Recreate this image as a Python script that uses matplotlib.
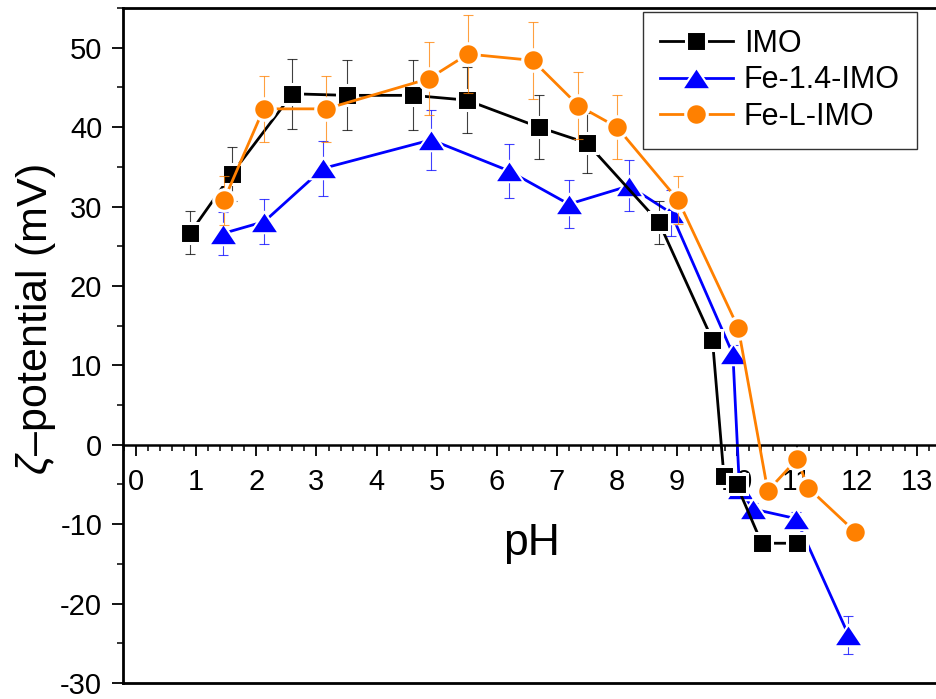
import numpy as np
import matplotlib.pyplot as plt
from matplotlib.path import Path
from matplotlib.markers import MarkerStyle
from matplotlib.ticker import MultipleLocator

plt.rcParams['font.family'] = ['Liberation Sans', 'DejaVu Sans']
plt.rcParams['mathtext.fontset'] = 'custom'
plt.rcParams['mathtext.rm'] = 'Liberation Sans'
plt.rcParams['mathtext.it'] = 'Liberation Sans:italic'
plt.rcParams['axes.unicode_minus'] = False

# zeta potential vs pH, three samples
ph_imo = [0.90, 1.59, 2.60, 3.50, 4.60, 5.50, 6.70, 7.50, 8.70, 9.59, 9.78, 9.99, 10.41, 10.99]
zeta_imo = [26.7, 34.1, 44.2, 44.0, 44.0, 43.4, 40.0, 38.0, 28.0, 13.2, -3.9, -5.0, -12.4, -12.4]
err_imo = [2.7, 3.4, 4.4, 4.4, 4.4, 4.2, 4.0, 3.8, 2.7, 1.0, 0.8, 0.8, 1.0, 1.0]

ph_fe14 = [1.44, 2.13, 3.11, 4.91, 6.20, 7.20, 8.20, 8.90, 9.93, 10.04, 10.27, 10.98, 11.85]
zeta_fe14 = [26.6, 28.1, 34.8, 38.4, 34.5, 30.3, 32.6, 29.2, 11.4, -5.6, -8.1, -9.3, -23.9]
err_fe14 = [2.7, 2.8, 3.5, 3.8, 3.4, 3.0, 3.2, 2.9, 1.2, 0.8, 0.8, 0.8, 2.4]

ph_fel = [1.46, 2.12, 3.16, 4.87, 5.52, 6.60, 7.36, 8.00, 9.02, 10.02, 10.51, 11.00, 11.18, 11.97]
zeta_fel = [30.8, 42.3, 42.3, 46.1, 49.2, 48.4, 42.7, 40.0, 30.8, 14.7, -5.8, -1.8, -5.4, -11.0]
err_fel = [3.1, 4.2, 4.2, 4.6, 4.9, 4.8, 4.2, 4.0, 3.0, 0.8, 0.5, 0.5, 0.5, 0.5]

# flattened up-triangle
tri = MarkerStyle(Path([(-1, -0.75), (1, -0.75), (0, 0.75), (-1, -0.75)],
                       [Path.MOVETO, Path.LINETO, Path.LINETO, Path.CLOSEPOLY]),
                  joinstyle='miter')

# x, y, err, label, colour, marker, size, white gap width, zorder
series = [
    (ph_fe14, zeta_fe14, err_fe14, 'Fe-1.4-IMO', '#0000FF', tri, 20.6, 1.5, 2),
    (ph_imo, zeta_imo, err_imo, 'IMO', 'black', 's', 14.3, 2.2, 3),
    (ph_fel, zeta_fel, err_fel, 'Fe-L-IMO', '#FF8000', 'o', 15.5, 2.2, 4),
]

fig = plt.figure(figsize=(9.36, 6.99), dpi=100)
ax = fig.add_axes([123/936, 16/699, 813/936, 675/699])

for x, y, e, lab, c, m, ms, gap, z in series:
    ax.errorbar(x, y, yerr=e, fmt='none', ecolor=c, elinewidth=0.8,
                capsize=3.6, capthick=0.8, alpha=0.75, zorder=z - 0.5)
    ax.plot(x, y, color=c, lw=2, marker=m, ms=ms, mfc=c, mec='white',
            mew=gap, zorder=z, label=lab)

ax.set_xlim(-0.22, 13.31)
ax.set_ylim(-30, 55)

ax.xaxis.set_major_locator(MultipleLocator(1))
ax.xaxis.set_minor_locator(MultipleLocator(0.2))
ax.yaxis.set_major_locator(MultipleLocator(10))
ax.yaxis.set_minor_locator(MultipleLocator(5))

ax.spines['right'].set_visible(False)
ax.spines['top'].set_linewidth(2)
ax.spines['left'].set_linewidth(2)
ax.spines['bottom'].set_position(('data', 0))
ax.spines['bottom'].set_linewidth(1.8)
# frame line along the bottom edge
ax.plot([0, 1], [0, 0], transform=ax.transAxes, color='black', lw=2,
        clip_on=False, zorder=6)

ax.tick_params(axis='x', which='major', direction='out', length=8, width=1.3,
               labelsize=21, pad=9, top=False)
ax.tick_params(axis='x', which='minor', direction='out', length=4.3, width=1.1, top=False)
ax.tick_params(axis='y', which='major', direction='out', length=8, width=1.3,
               labelsize=21, pad=7, right=False)
ax.tick_params(axis='y', which='minor', direction='out', length=4.3, width=1.1, right=False)

ax.set_xlabel('pH', fontsize=32, va='center')
ax.xaxis.set_label_coords(0.502, 0.207)
ax.set_ylabel(r'$\zeta$–potential (mV)', fontsize=31, va='center')
ax.yaxis.set_label_coords(-0.107, 0.538)

handles, labels = ax.get_legend_handles_labels()
order = [labels.index(n) for n in ['IMO', 'Fe-1.4-IMO', 'Fe-L-IMO']]
leg = ax.legend([handles[i] for i in order], [labels[i] for i in order],
                loc='upper left', bbox_to_anchor=(0.6396, 0.9945),
                borderaxespad=0, fontsize=22, handlelength=2.4,
                handletextpad=0.35, borderpad=0.55, labelspacing=0.22,
                fancybox=False, framealpha=1, edgecolor='#333333')
leg.get_frame().set_linewidth(1)

fig.savefig('out.png', dpi=100)
